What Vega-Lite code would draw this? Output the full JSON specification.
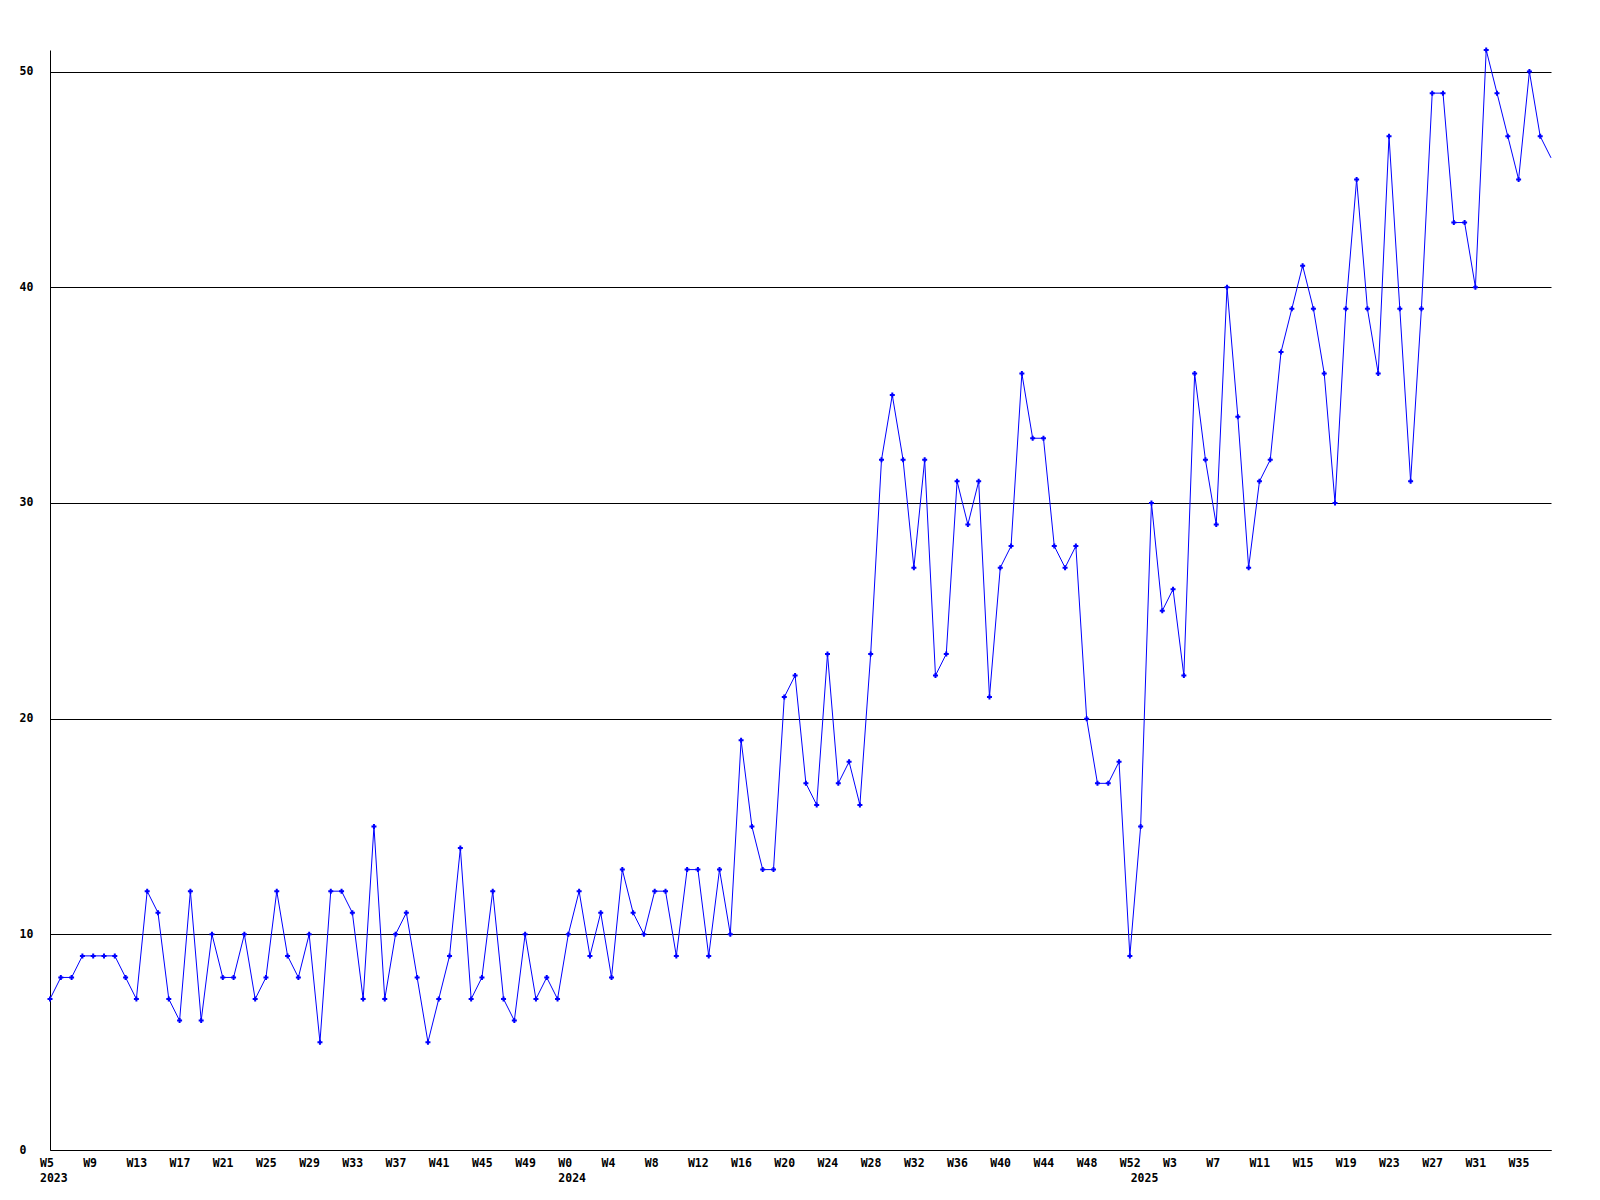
{
  "$schema": "https://vega.github.io/schema/vega-lite/v6.json",
  "width": 1501,
  "height": 1100,
  "autosize": {"type": "none"},
  "padding": {"left": 50, "top": 50, "right": 49, "bottom": 50},
  "background": "white",
  "config": {
    "view": {"stroke": null},
    "axis": {"labelFont": "DejaVu Sans Mono", "labelFontWeight": "bold", "labelFontSize": 11.5, "labelColor": "black"}
  },
  "data": {"values": [
    {"week":"2023 W5","count":7},{"week":"2023 W6","count":8},{"week":"2023 W7","count":8},{"week":"2023 W8","count":9},{"week":"2023 W9","count":9},
    {"week":"2023 W10","count":9},{"week":"2023 W11","count":9},{"week":"2023 W12","count":8},{"week":"2023 W13","count":7},{"week":"2023 W14","count":12},
    {"week":"2023 W15","count":11},{"week":"2023 W16","count":7},{"week":"2023 W17","count":6},{"week":"2023 W18","count":12},{"week":"2023 W19","count":6},
    {"week":"2023 W20","count":10},{"week":"2023 W21","count":8},{"week":"2023 W22","count":8},{"week":"2023 W23","count":10},{"week":"2023 W24","count":7},
    {"week":"2023 W25","count":8},{"week":"2023 W26","count":12},{"week":"2023 W27","count":9},{"week":"2023 W28","count":8},{"week":"2023 W29","count":10},
    {"week":"2023 W30","count":5},{"week":"2023 W31","count":12},{"week":"2023 W32","count":12},{"week":"2023 W33","count":11},{"week":"2023 W34","count":7},
    {"week":"2023 W35","count":15},{"week":"2023 W36","count":7},{"week":"2023 W37","count":10},{"week":"2023 W38","count":11},{"week":"2023 W39","count":8},
    {"week":"2023 W40","count":5},{"week":"2023 W41","count":7},{"week":"2023 W42","count":9},{"week":"2023 W43","count":14},{"week":"2023 W44","count":7},
    {"week":"2023 W45","count":8},{"week":"2023 W46","count":12},{"week":"2023 W47","count":7},{"week":"2023 W48","count":6},{"week":"2023 W49","count":10},
    {"week":"2023 W50","count":7},{"week":"2023 W51","count":8},{"week":"2023 W52","count":7},
    {"week":"2024 W0","count":10},{"week":"2024 W1","count":12},{"week":"2024 W2","count":9},{"week":"2024 W3","count":11},{"week":"2024 W4","count":8},
    {"week":"2024 W5","count":13},{"week":"2024 W6","count":11},{"week":"2024 W7","count":10},{"week":"2024 W8","count":12},{"week":"2024 W9","count":12},
    {"week":"2024 W10","count":9},{"week":"2024 W11","count":13},{"week":"2024 W12","count":13},{"week":"2024 W13","count":9},{"week":"2024 W14","count":13},
    {"week":"2024 W15","count":10},{"week":"2024 W16","count":19},{"week":"2024 W17","count":15},{"week":"2024 W18","count":13},{"week":"2024 W19","count":13},
    {"week":"2024 W20","count":21},{"week":"2024 W21","count":22},{"week":"2024 W22","count":17},{"week":"2024 W23","count":16},{"week":"2024 W24","count":23},
    {"week":"2024 W25","count":17},{"week":"2024 W26","count":18},{"week":"2024 W27","count":16},{"week":"2024 W28","count":23},{"week":"2024 W29","count":32},
    {"week":"2024 W30","count":35},{"week":"2024 W31","count":32},{"week":"2024 W32","count":27},{"week":"2024 W33","count":32},{"week":"2024 W34","count":22},
    {"week":"2024 W35","count":23},{"week":"2024 W36","count":31},{"week":"2024 W37","count":29},{"week":"2024 W38","count":31},{"week":"2024 W39","count":21},
    {"week":"2024 W40","count":27},{"week":"2024 W41","count":28},{"week":"2024 W42","count":36},{"week":"2024 W43","count":33},{"week":"2024 W44","count":33},
    {"week":"2024 W45","count":28},{"week":"2024 W46","count":27},{"week":"2024 W47","count":28},{"week":"2024 W48","count":20},{"week":"2024 W49","count":17},
    {"week":"2024 W50","count":17},{"week":"2024 W51","count":18},{"week":"2024 W52","count":9},
    {"week":"2025 W0","count":15},{"week":"2025 W1","count":30},{"week":"2025 W2","count":25},{"week":"2025 W3","count":26},{"week":"2025 W4","count":22},
    {"week":"2025 W5","count":36},{"week":"2025 W6","count":32},{"week":"2025 W7","count":29},{"week":"2025 W8","count":40},{"week":"2025 W9","count":34},
    {"week":"2025 W10","count":27},{"week":"2025 W11","count":31},{"week":"2025 W12","count":32},{"week":"2025 W13","count":37},{"week":"2025 W14","count":39},
    {"week":"2025 W15","count":41},{"week":"2025 W16","count":39},{"week":"2025 W17","count":36},{"week":"2025 W18","count":30},{"week":"2025 W19","count":39},
    {"week":"2025 W20","count":45},{"week":"2025 W21","count":39},{"week":"2025 W22","count":36},{"week":"2025 W23","count":47},{"week":"2025 W24","count":39},
    {"week":"2025 W25","count":31},{"week":"2025 W26","count":39},{"week":"2025 W27","count":49},{"week":"2025 W28","count":49},{"week":"2025 W29","count":43},
    {"week":"2025 W30","count":43},{"week":"2025 W31","count":40},{"week":"2025 W32","count":51},{"week":"2025 W33","count":49},{"week":"2025 W34","count":47},
    {"week":"2025 W35","count":45},{"week":"2025 W36","count":50},{"week":"2025 W37","count":47},{"week":"2025 W38","count":46}
  ]},
  "encoding": {
    "x": {
      "field": "week", "type": "ordinal", "sort": null,
      "scale": {"type": "point", "padding": 0},
      "axis": {
        "title": null,
        "values": ["2023 W5","2023 W9","2023 W13","2023 W17","2023 W21","2023 W25","2023 W29","2023 W33","2023 W37","2023 W41","2023 W45","2023 W49",
                   "2024 W0","2024 W4","2024 W8","2024 W12","2024 W16","2024 W20","2024 W24","2024 W28","2024 W32","2024 W36","2024 W40","2024 W44","2024 W48","2024 W52",
                   "2025 W0","2025 W3","2025 W7","2025 W11","2025 W15","2025 W19","2025 W23","2025 W27","2025 W31","2025 W35"],
        "labelExpr": "datum.value == '2023 W5' || datum.value == '2024 W0' ? [split(datum.value, ' ')[1], split(datum.value, ' ')[0]] : (datum.value == '2025 W0' ? ['', '2025'] : split(datum.value, ' ')[1])",
        "ticks": false,
        "grid": false,
        "domain": true,
        "domainColor": "black",
        "domainWidth": 1,
        "labelAngle": 0,
        "labelAlign": "left",
        "labelBaseline": "top",
        "labelOffset": -10.5,
        "labelPadding": 7,
        "labelLineHeight": 15,
        "labelOverlap": false,
        "labelBound": false,
        "labelFlush": false
      }
    },
    "y": {
      "field": "count", "type": "quantitative",
      "scale": {"domain": [0, 51], "nice": false},
      "axis": {
        "title": null,
        "values": [0, 10, 20, 30, 40, 50],
        "grid": true,
        "gridColor": "black",
        "gridOpacity": 1,
        "gridWidth": 1,
        "ticks": false,
        "domain": true,
        "domainColor": "black",
        "domainWidth": 1,
        "labelAlign": "left",
        "labelBaseline": "middle",
        "labelPadding": 31
      }
    }
  },
  "layer": [
    {"mark": {"type": "line", "color": "#0000ff", "strokeWidth": 1}},
    {
      "transform": [{"filter": "datum.week != '2025 W38'"}],
      "mark": {"type": "point", "shape": "cross", "filled": true, "size": 25, "color": "#0000ff", "opacity": 1}
    }
  ]
}
